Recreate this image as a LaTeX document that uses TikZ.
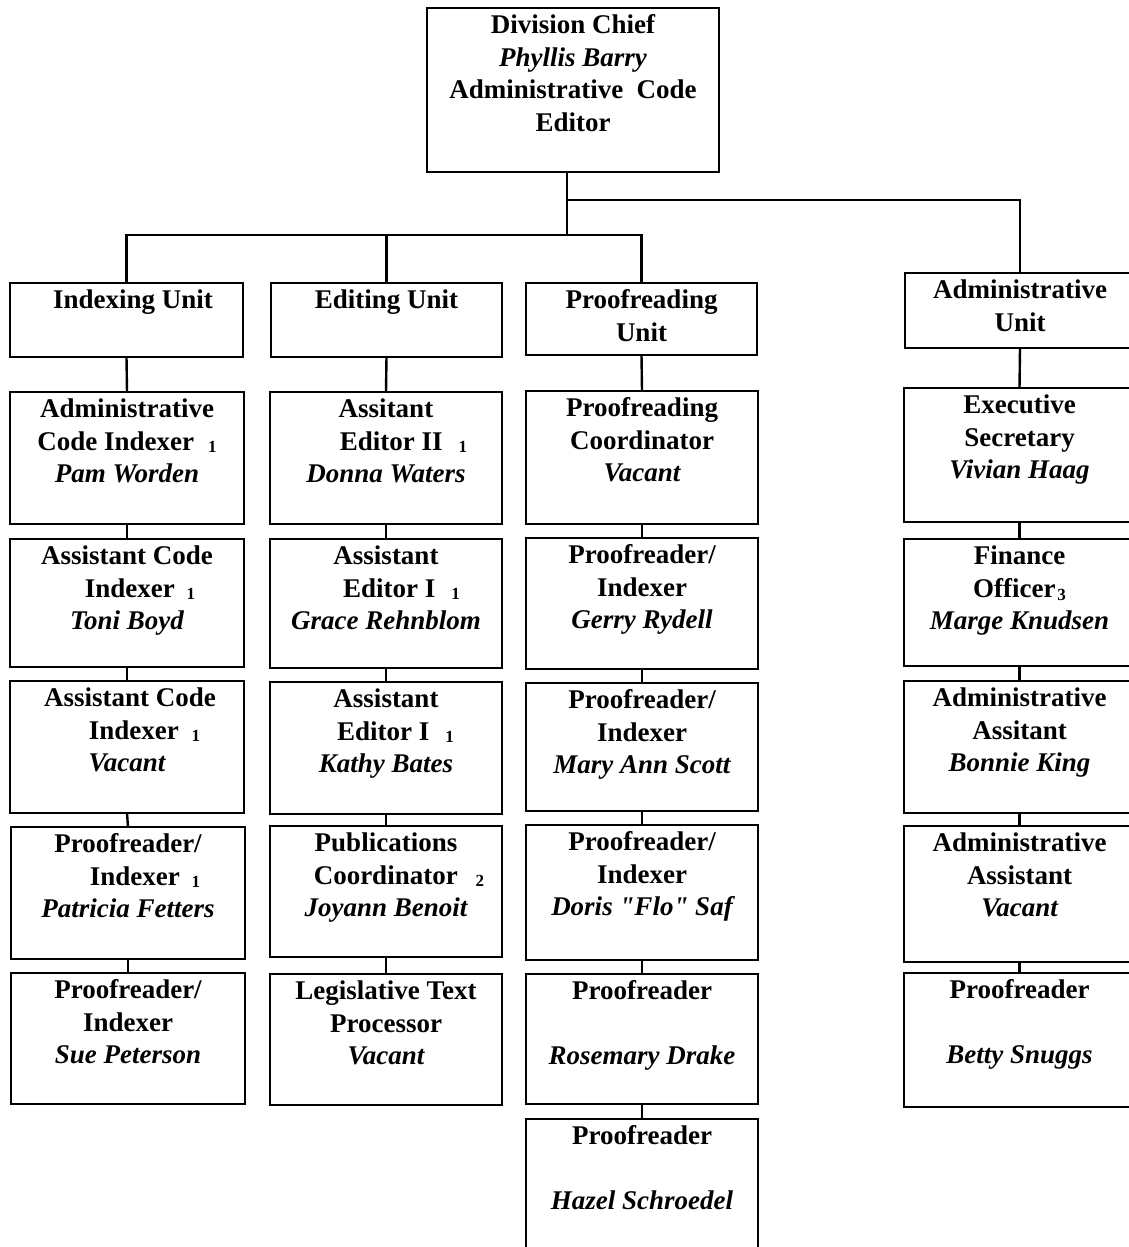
\documentclass[tikz,border=0pt]{standalone}
\usepackage{fontspec}
\setmainfont{Liberation Serif}
\newcommand{\nm}[1]{{\itshape #1}}
\newcommand{\fn}[1]{\raisebox{-2pt}{\fontsize{17}{17}\selectfont #1}}
\tikzset{
  box/.style={draw, line width=2.4pt, inner sep=0pt, outer sep=0pt, anchor=north west},
  lbl/.style={anchor=north, inner sep=0pt, outer sep=0pt, align=center,
              font=\fontsize{27}{32.5}\selectfont\bfseries},
  link/.style={line width=2.4pt},
}
\newcommand{\ob}[6]{%
  \node[box, minimum width={(#4-#2)*1pt}, minimum height={(#5-#3)*1pt}] (#1) at (#2,#3) {};
  \node[lbl] (#1t) at ([yshift=-2.75pt]#1.north) {\strut #6};}
\begin{document}
\begin{tikzpicture}[x=1pt, y=-1pt]
\useasboundingbox[fill=white] (0,0) rectangle (1129,1247);

% top
\ob{top}{427}{8}{719}{172}{Division Chief\\ \nm{Phyllis Barry}\\ Administrative~~Code\\ Editor}

% units
\ob{IU}{10}{283}{243}{357}{\hspace*{13pt}Indexing Unit}
\ob{EU}{271}{283}{502}{357}{Editing Unit}
\ob{PU}{526}{283}{757}{355}{Proofreading\\ Unit}
\ob{AU}{905}{273}{1135}{348}{Administrative\\ Unit}

% indexing column
\ob{I2}{10}{392}{244}{524}{Administrative\\ Code Indexer\hspace{14pt}\fn{1}\\ \nm{Pam Worden}}
\ob{I3}{10}{539}{244}{667}{Assistant Code\\ \hspace*{26pt}Indexer\hspace{12pt}\fn{1}\\ \nm{Toni Boyd}}
\ob{I4}{10}{681}{244}{813}{\hspace*{6pt}Assistant Code\\ \hspace*{35pt}Indexer\hspace{13pt}\fn{1}\\ \nm{Vacant}}
\ob{I5}{11}{827}{245}{959}{Proofreader/\\ \hspace*{34pt}Indexer\hspace{12pt}\fn{1}\\ \nm{Patricia Fetters}}
\ob{I6}{11}{973}{245}{1104}{Proofreader/\\ Indexer\\ \nm{Sue Peterson}}

% editing column
\ob{E2}{270}{392}{502}{524}{Assitant\\ \hspace*{35pt}Editor II\hspace{16pt}\fn{1}\\ \nm{Donna Waters}}
\ob{E3}{270}{539}{502}{668}{Assistant\\ \hspace*{31pt}Editor I\hspace{16pt}\fn{1}\\ \nm{Grace Rehnblom}}
\ob{E4}{270}{682}{502}{814}{Assistant\\ \hspace*{19pt}Editor I\hspace{16pt}\fn{1}\\ \nm{Kathy Bates}}
\ob{E5}{270}{826}{502}{957}{Publications\\ \hspace*{26pt}Coordinator\hspace{18pt}\fn{2}\\ \nm{Joyann Benoit}}
\ob{E6}{270}{974}{502}{1105}{Legislative Text\\ Processor\\ \nm{Vacant}}

% proofreading column
\ob{P2}{526}{391}{758}{524}{Proofreading\\ Coordinator\\ \nm{Vacant}}
\ob{P3}{526}{538}{758}{669}{Proofreader/\\ Indexer\\ \nm{Gerry Rydell}}
\ob{P4}{526}{683}{758}{811}{Proofreader/\\ Indexer\\ \nm{Mary Ann Scott}}
\ob{P5}{526}{825}{758}{960}{Proofreader/\\ Indexer\\ \nm{Doris \textquotedbl Flo\textquotedbl{} Saf}}
\ob{P6}{526}{974}{758}{1104}{Proofreader\\ \mbox{}\\ \nm{Rosemary Drake}}
\ob{P7}{526}{1119}{758}{1262}{Proofreader\\ \mbox{}\\ \nm{Hazel Schroedel}}

% administrative column
\ob{A2}{904}{388}{1135}{522}{Executive\\ Secretary\\ \nm{Vivian Haag}}
\ob{A3}{904}{539}{1135}{666}{Finance\\ Officer\hspace{2pt}\raisebox{-3pt}{\fontsize{17}{17}\selectfont 3}\\ \nm{Marge Knudsen}}
\ob{A4}{904}{681}{1135}{813}{Administrative\\ Assitant\\ \nm{Bonnie King}}
\ob{A5}{904}{826}{1135}{962}{Administrative\\ Assistant\\ \nm{Vacant}}
\ob{A6}{904}{973}{1135}{1107}{Proofreader\\ \mbox{}\\ \nm{Betty Snuggs}}

% trunk connectors
\coordinate (jA) at (567,200);
\coordinate (jB) at (567,235);
\draw[link] (top.south -| jA) -- (jB);
\draw[link] (jA) -| (AU.north);
\draw[link] (IU.north) |- (PU.north |- jB) -- (PU.north);
\draw[link] (EU.north) -- (EU.north |- jB);

% column connectors
\draw[link] (IU.south) -- (I2.north);
\draw[link] (I2.south) -- (I3.north);
\draw[link] (I3.south) -- (I4.north);
\draw[link] (I4.south) -- (I5.north);
\draw[link] (I5.south) -- (I6.north);
\draw[link] (EU.south) -- (E2.north);
\draw[link] (E2.south) -- (E3.north);
\draw[link] (E3.south) -- (E4.north);
\draw[link] (E4.south) -- (E5.north);
\draw[link] (E5.south) -- (E6.north);
\draw[link] (PU.south) -- (P2.north);
\draw[link] (P2.south) -- (P3.north);
\draw[link] (P3.south) -- (P4.north);
\draw[link] (P4.south) -- (P5.north);
\draw[link] (P5.south) -- (P6.north);
\draw[link] (P6.south) -- (P7.north);
\draw[link] (AU.south) -- (A2.north);
\draw[link] (A2.south) -- (A3.north);
\draw[link] (A3.south) -- (A4.north);
\draw[link] (A4.south) -- (A5.north);
\draw[link] (A5.south) -- (A6.north);
\end{tikzpicture}
\end{document}
